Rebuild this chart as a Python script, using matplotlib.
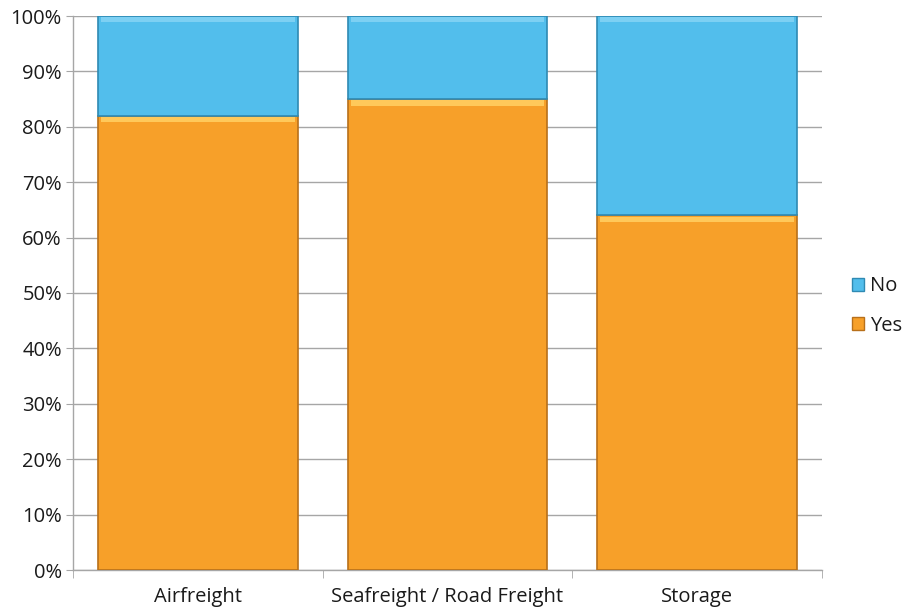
import numpy as np
import matplotlib.pyplot as plt
from matplotlib.patches import Patch

categories = ["Airfreight", "Seafreight / Road Freight", "Storage"]
yes_share = [82, 85, 64]
no_share = [18, 15, 36]

plt.rcParams['font.family'] = ['Open Sans', 'DejaVu Sans']

orange = '#F7A029'
orange_edge = '#B8701A'
blue = '#52BEEC'
blue_edge = '#2F8AB3'
grid_col = '#A6A6A6'
text_col = '#1A1A1A'
fs = 14.5

fig = plt.figure(figsize=(9.09, 6.09), dpi=100)
ax = fig.add_axes([73 / 909, 39 / 609, 749 / 909, 554 / 609])

x = np.arange(len(categories))
width = 0.8

ax.bar(x, yes_share, width, color=orange, edgecolor=orange_edge, linewidth=1.2, zorder=3)
ax.bar(x, no_share, width, bottom=yes_share, color=blue, edgecolor=blue_edge,
       linewidth=1.2, zorder=3)

# light rim along the top of each segment for the bevelled look
ax.bar(x, [1.0] * len(x), width * 0.97, bottom=np.array(yes_share) - 1.2,
       color='#FFC95A', linewidth=0, zorder=4)
ax.bar(x, [0.8] * len(x), width * 0.97, bottom=np.array(yes_share) + np.array(no_share) - 1.0,
       color='#7DD0F3', linewidth=0, zorder=4)

ax.set_xlim(-0.5, len(categories) - 0.5)
ax.set_ylim(0, 100)
ax.set_yticks(np.arange(0, 101, 10))
ax.set_yticklabels([f"{v}%" for v in range(0, 101, 10)], fontsize=fs, color=text_col)
ax.set_xticks(x)
ax.set_xticklabels(categories, fontsize=fs, color=text_col)
ax.set_xticks(np.arange(-0.5, len(categories), 1), minor=True)
ax.tick_params(axis='x', which='major', length=0, pad=12)
ax.tick_params(axis='x', which='minor', length=6, color=grid_col, direction='out')
ax.tick_params(axis='y', length=5, color=grid_col, direction='out', pad=3)

ax.grid(axis='y', color=grid_col, linewidth=1, zorder=0)
for side in ['top', 'right']:
    ax.spines[side].set_visible(False)
for side in ['left', 'bottom']:
    ax.spines[side].set_color(grid_col)
    ax.spines[side].set_linewidth(1)

handles = [Patch(facecolor=blue, edgecolor=blue_edge, label='No'),
           Patch(facecolor=orange, edgecolor=orange_edge, label='Yes')]
fig.legend(handles=handles, loc='center left', bbox_to_anchor=(852 / 909, 1 - 306 / 609),
           frameon=False, fontsize=fs, handlelength=0.6, handleheight=0.6,
           handletextpad=0.3, labelspacing=0.95, borderaxespad=0, borderpad=0,
           labelcolor=text_col)

fig.savefig('out.png', dpi=100)
